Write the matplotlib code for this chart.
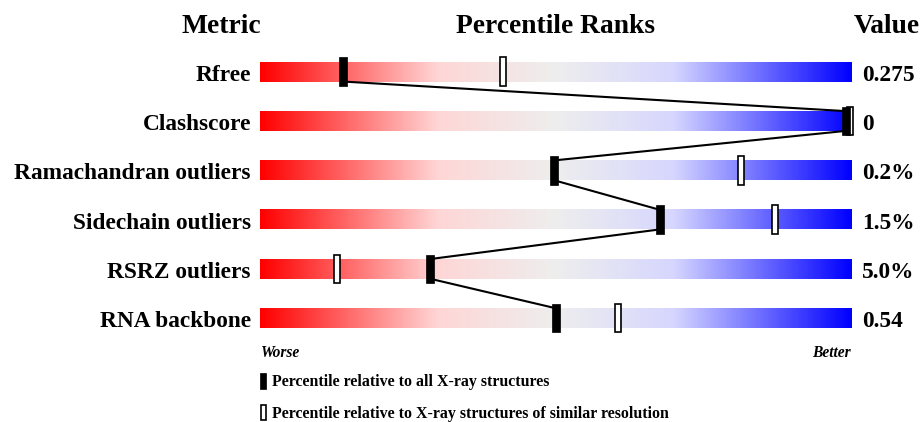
import matplotlib
matplotlib.use("Agg")
import matplotlib.pyplot as plt
import numpy as np
from matplotlib.colors import LinearSegmentedColormap
from matplotlib.patches import Rectangle

# ---- data ----
metrics = ["Rfree", "Clashscore", "Ramachandran outliers", "Sidechain outliers",
           "RSRZ outliers", "RNA backbone"]
values = ["0.275", "0", "0.2%", "1.5%", "5.0%", "0.54"]
pct_all = [14.1, 99.2, 49.7, 67.6, 28.8, 50.1]        # relative to all X-ray structures
pct_similar = [41.1, 99.8, 81.4, 87.2, 13.0, 60.5]    # relative to similar resolution
headers = ["Metric", "Percentile Ranks", "Value"]
legend_labels = ["Percentile relative to all X-ray structures",
                 "Percentile relative to X-ray structures of similar resolution"]
axis_ends = ["Worse", "Better"]

plt.rcParams['font.family'] = ['Liberation Serif', 'DejaVu Serif']

W, H = 922, 422
DPI = 100
fig = plt.figure(figsize=(W / DPI, H / DPI), dpi=DPI)

def fx(px):
    return px / W

def fy(py):
    return 1 - py / H

# bar axes: x 260..851 px, rows centered at 71.7 + 49.3*i
bar_left, bar_right = 260, 851
row0, row_step = 71.7, 49.3
n = len(metrics)
top_px = row0 - row_step / 2
bot_px = row0 + row_step * (n - 0.5)
ax = fig.add_axes([fx(bar_left), fy(bot_px), fx(bar_right - bar_left), (bot_px - top_px) / H])
ax.set_xlim(0, 100)
ax.set_ylim(n - 0.5, -0.5)
ax.axis('off')

cmap = LinearSegmentedColormap.from_list(
    "slider",
    [(0.0, "#FF0000"), (0.3, "#FFD6D6"), (0.5, "#EEEEEE"), (0.7, "#D6D6FF"), (1.0, "#0000FF")])
grad = np.linspace(0, 1, 512)[None, :]
bh = 0.2  # half bar height (row units)
for i in range(n):
    ax.imshow(grad, cmap=cmap, aspect='auto', extent=(0, 100, i + bh, i - bh),
              interpolation='bilinear', zorder=1)

# connecting line between "all" markers
for i in range(n - 1):
    ax.plot([pct_all[i], pct_all[i + 1]], [i + bh, i + 1 - bh], color='black', lw=1.5,
            zorder=2, solid_capstyle='butt')

mw_all = 8 / (bar_right - bar_left) * 100
mw_sim = 6 / (bar_right - bar_left) * 100
mh = 0.29
for i in range(n):
    ax.add_patch(Rectangle((pct_similar[i] - mw_sim / 2, i - mh), mw_sim, 2 * mh,
                           facecolor='white', edgecolor='black', lw=1.2, zorder=3,
                           clip_on=False))
    ax.add_patch(Rectangle((pct_all[i] - mw_all / 2, i - mh), mw_all, 2 * mh,
                           facecolor='black', edgecolor='black', lw=0.5, zorder=4,
                           clip_on=False))

# labels & values
for i in range(n):
    ax.annotate(metrics[i], xy=(0, i), xytext=(-6.5, -6.6), textcoords='offset points',
                ha='right', va='baseline', fontsize=16.8, fontweight='bold',
                annotation_clip=False)
    ax.annotate(values[i], xy=(100, i), xytext=(7.7, -6.6), textcoords='offset points',
                ha='left', va='baseline', fontsize=16.8, fontweight='bold',
                annotation_clip=False)

# headers
fig.text(fx(221), fy(33), headers[0], ha='center', va='baseline', fontsize=19.8, fontweight='bold')
fig.text(fx((bar_left + bar_right) / 2), fy(33), headers[1], ha='center', va='baseline',
         fontsize=19.8, fontweight='bold')
fig.text(fx(886.5), fy(33), headers[2], ha='center', va='baseline', fontsize=19.8, fontweight='bold')

# worse / better
fig.text(fx(261), fy(357), axis_ends[0], ha='left', va='baseline', fontsize=11.2,
         fontweight='bold', fontstyle='italic')
fig.text(fx(851), fy(357), axis_ends[1], ha='right', va='baseline', fontsize=11.2,
         fontweight='bold', fontstyle='italic')

# legend
fig.patches.append(Rectangle((fx(260), fy(389)), fx(6), 16 / H, transform=fig.transFigure,
                             facecolor='black', edgecolor='black', lw=0.5))
fig.patches.append(Rectangle((fx(261), fy(419.5)), fx(5), 14.5 / H, transform=fig.transFigure,
                             facecolor='white', edgecolor='black', lw=1.2))
fig.text(fx(272), fy(386.5), legend_labels[0], ha='left', va='baseline', fontsize=11.4,
         fontweight='bold')
fig.text(fx(272), fy(418), legend_labels[1], ha='left', va='baseline', fontsize=11.4,
         fontweight='bold')

fig.savefig("out.png", dpi=DPI)
